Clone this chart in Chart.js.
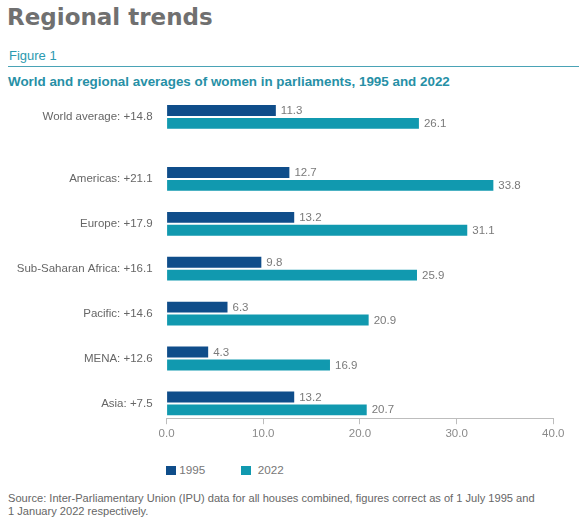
<!DOCTYPE html>
<html>
<head>
<meta charset="utf-8">
<script src="https://cdn.jsdelivr.net/npm/chart.js@4"></script>
<style>
  html, body { margin: 0; padding: 0; background: #fff; }
  body { width: 579px; height: 521px; position: relative; overflow: hidden; font-family: "Liberation Sans", Arial, sans-serif; }
  .abs { position: absolute; white-space: nowrap; line-height: 1; }
  #title { left: 7px; top: 6.2px; font-family: "DejaVu Sans", sans-serif; font-size: 23px; font-weight: bold; color: #707070; }
  #fig { left: 9px; top: 49px; font-size: 13px; color: #2c9ab0; }
  #rule { position: absolute; left: 8px; top: 66px; width: 571px; height: 1px; background: #4aa3b6; }
  #subtitle { left: 8px; top: 74.7px; font-size: 13.4px; font-weight: bold; color: #2790a6; }
  #chartWrap { position: absolute; left: 0; top: 90px; width: 579px; height: 360px; }
  .legsq { position: absolute; top: 466px; width: 9.5px; height: 9px; }
  .legtx { position: absolute; top: 464.1px; font-size: 11.7px; color: #777; line-height: 1; white-space: nowrap; }
  #source { left: 8px; top: 491.7px; font-size: 11.1px; color: #666; line-height: 13.5px; white-space: nowrap; }
</style>
</head>
<body>
<div id="title" class="abs">Regional trends</div>
<div id="fig" class="abs">Figure 1</div>
<div id="rule"></div>
<div id="subtitle" class="abs">World and regional averages of women in parliaments, 1995 and 2022</div>
<div id="chartWrap"><canvas id="c" width="579" height="360"></canvas></div>
<div id="legend"></div>
<div id="source" class="abs">Source: Inter-Parliamentary Union (IPU) data for all houses combined, figures correct as of 1 July 1995 and<br>1 January 2022 respectively.</div>
<script>
// ---- data ----
const categories = ["World average: +14.8", "Americas: +21.1", "Europe: +17.9", "Sub-Saharan Africa: +16.1", "Pacific: +14.6", "MENA: +12.6", "Asia: +7.5"];
const seriesNames = ["1995", "2022"];
const values1995 = [11.3, 12.7, 13.2, 9.8, 6.3, 4.3, 13.2];
const values2022 = [26.1, 33.8, 31.1, 25.9, 20.9, 16.9, 20.7];
const xTicks = [0, 10, 20, 30, 40];

// ---- styling ----
const colors = ["#0f4d8a", "#1199af"];
// slot positions: extra gap after the world average row
const extraGap = 0.38;
const slots = categories.map((_, i) => i === 0 ? 0 : i + extraGap);

// legend (HTML)
const legendEl = document.getElementById('legend');
const legSqX = [166, 241];
const legTxX = [179.3, 257.7];
seriesNames.forEach((n, i) => {
  const sq = document.createElement('div');
  sq.className = 'legsq';
  sq.style.left = legSqX[i] + 'px';
  sq.style.background = colors[i];
  legendEl.appendChild(sq);
  const tx = document.createElement('div');
  tx.className = 'legtx';
  tx.style.left = legTxX[i] + 'px';
  tx.textContent = n;
  legendEl.appendChild(tx);
});

const valueLabels = {
  id: 'valueLabels',
  afterDatasetsDraw(chart) {
    const ctx = chart.ctx;
    ctx.save();
    ctx.font = '11.5px "Liberation Sans", Arial, sans-serif';
    ctx.fillStyle = '#7a7a7a';
    ctx.textBaseline = 'middle';
    ctx.textAlign = 'left';
    chart.data.datasets.forEach((ds, di) => {
      const meta = chart.getDatasetMeta(di);
      meta.data.forEach((el, i) => {
        ctx.fillText(ds.data[i].x.toFixed(1), el.x + 5, el.y + 0.5);
      });
    });
    ctx.restore();
  }
};

const series = [values1995, values2022];
new Chart(document.getElementById('c'), {
  type: 'bar',
  data: {
    datasets: series.map((vals, s) => ({
      label: seriesNames[s],
      data: vals.map((v, i) => ({ x: v, y: slots[i] })),
      backgroundColor: colors[s],
      borderWidth: 0,
      categoryPercentage: 0.574,
      barPercentage: 0.846
    }))
  },
  options: {
    indexAxis: 'y',
    responsive: false,
    animation: false,
    layout: { padding: { top: 9, right: 25.7, bottom: 6, left: 0 } },
    plugins: { legend: { display: false }, tooltip: { enabled: false } },
    scales: {
      x: {
        type: 'linear',
        min: xTicks[0],
        max: xTicks[xTicks.length - 1],
        afterBuildTicks(scale) { scale.ticks = xTicks.map(v => ({ value: v })); },
        grid: { drawOnChartArea: false, drawTicks: true, tickLength: 6, color: '#bdbdbd' },
        border: { display: true, color: '#bdbdbd', width: 1 },
        ticks: {
          padding: 3,
          color: '#8a8a8a',
          font: { family: '"Liberation Sans", Arial, sans-serif', size: 11.5 },
          callback: v => Number(v).toFixed(1)
        }
      },
      y: {
        type: 'linear',
        reverse: true,
        offset: false,
        min: -0.4,
        max: slots[slots.length - 1] + 0.33,
        afterBuildTicks(scale) { scale.ticks = slots.map(v => ({ value: v })); },
        afterFit(scale) { scale.width = 166.6; },
        grid: { display: false, drawTicks: true, tickLength: 14, color: 'rgba(0,0,0,0)', offset: false },
        border: { display: false },
        ticks: {
          padding: 0,
          color: '#666',
          font: { family: '"Liberation Sans", Arial, sans-serif', size: 11.5 },
          callback: (v, idx) => categories[idx]
        }
      }
    }
  },
  plugins: [valueLabels]
});
</script>
</body>
</html>
